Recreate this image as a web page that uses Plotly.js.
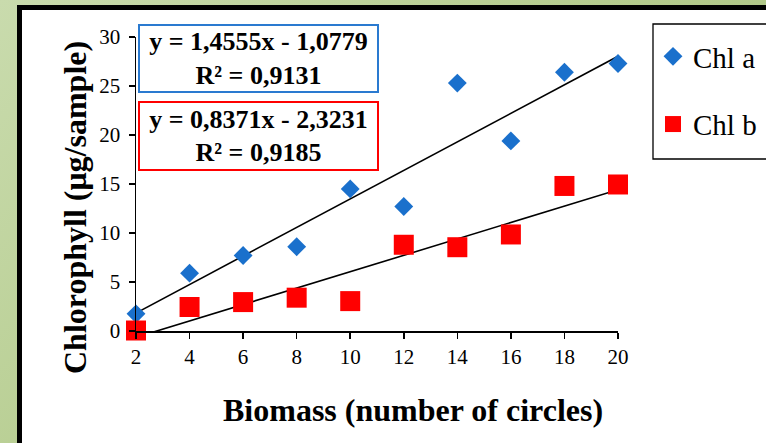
<!DOCTYPE html>
<html>
<head>
<meta charset="utf-8">
<script src="https://cdn.plot.ly/plotly-3.0.1.min.js"></script>
<style>
  html, body { margin: 0; padding: 0; width: 766px; height: 443px; overflow: hidden; }
  body { background: linear-gradient(135deg, #c9dbad 0%, #b5cc8e 50%, #a6bf7b 100%); position: relative; }
  #frame { position: absolute; left: 17px; top: 5px; width: 760px; height: 450px; background: #ffffff;
           border-left: 5px solid #000; border-top: 5px solid #000; box-sizing: border-box; }
  #chart { position: absolute; left: 0; top: 0; width: 766px; height: 443px; }
</style>
</head>
<body>
<div id="frame"></div>
<div id="chart"></div>
<script>
// ---- data ----
const biomass = [2, 4, 6, 8, 10, 12, 14, 16, 18, 20];
const chlA = [1.75, 5.9, 7.7, 8.6, 14.5, 12.7, 25.3, 19.4, 26.4, 27.3];
const chlB = [0.05, 2.45, 2.95, 3.4, 3.05, 8.8, 8.55, 9.85, 14.8, 14.95];
const seriesNames = ["Chl a", "Chl b"];
// trend line coefficients as printed on the chart
const slopes = [1.4555, 0.8371];
const intercepts = [-1.0779, -2.3231];
const r2 = ["0,9131", "0,9185"];
const eqLabels = ["y = 1,4555x - 1,0779", "y = 0,8371x - 2,3231"];
const xTitle = "Biomass (number of circles)";
const yTitle = "Chlorophyll (μg/sample)";

const blue = "#1a70cc";
const red = "#ff0000";
const serif = "Liberation Serif, Times New Roman, serif";

function trend(i) {
  const xs = [biomass[0], biomass[biomass.length - 1]];
  return { x: xs, y: xs.map(v => slopes[i] * v + intercepts[i]) };
}

const tA = trend(0), tB = trend(1);

const traces = [
  { x: tA.x, y: tA.y, mode: "lines", line: { color: "#000", width: 1.6 }, showlegend: false, hoverinfo: "skip" },
  { x: tB.x, y: tB.y, mode: "lines", line: { color: "#000", width: 1.6 }, showlegend: false, hoverinfo: "skip" },
  { x: biomass, y: chlA, name: seriesNames[0], mode: "markers", cliponaxis: false, legendgroup: "a",
    marker: { symbol: "diamond", size: 14.5, color: blue } },
  { x: biomass, y: chlB, name: seriesNames[1], mode: "markers", cliponaxis: false, legendgroup: "b",
    marker: { symbol: "square", size: 20, color: red } }
];

const L = 136, R = 618, T = 37, B = 331;
const pw = R - L, ph = B - T;
const px = v => (v - L) / pw;
const py = v => (B - v) / ph;

const layout = {
  width: 766, height: 443,
  margin: { l: L, r: 766 - R, t: T, b: 443 - B, autoexpand: false },
  paper_bgcolor: "rgba(0,0,0,0)",
  plot_bgcolor: "rgba(0,0,0,0)",
  font: { family: serif, color: "#000" },
  xaxis: {
    range: [2, 20], tickmode: "linear", tick0: 2, dtick: 2,
    showgrid: false, zeroline: false, showline: true, linecolor: "#000", linewidth: 1.5,
    ticks: "outside", ticklen: 6, tickwidth: 1.5, tickcolor: "#000",
    tickfont: { family: serif, size: 21, color: "#000" }
  },
  yaxis: {
    range: [0, 30], tickmode: "linear", tick0: 0, dtick: 5,
    showgrid: false, zeroline: false, showline: true, linecolor: "#000", linewidth: 1.5,
    ticks: "outside", ticklen: 6, tickwidth: 1.5, tickcolor: "#000", ticklabelstandoff: 4,
    tickfont: { family: serif, size: 21, color: "#000" }
  },
  showlegend: true,
  legend: {
    x: px(653), y: py(31), xanchor: "left", yanchor: "top",
    bgcolor: "rgba(0,0,0,0)", borderwidth: 0,
    font: { family: serif, size: 29, color: "#000" },
    traceorder: "grouped", tracegroupgap: 27
  },
  shapes: [
    { type: "rect", xref: "paper", yref: "paper", x0: px(653), x1: px(790), y0: py(159), y1: py(24),
      line: { color: "#000", width: 1.3 }, fillcolor: "#fff", layer: "above" }
  ],
  annotations: [
    { xref: "paper", yref: "paper", x: px(258.5), y: py(58.5), xanchor: "center", yanchor: "middle",
      text: "<b>" + eqLabels[0] + "<br>R² = " + r2[0] + "</b>", showarrow: false,
      font: { family: serif, size: 26, color: "#000" }, align: "center",
      bordercolor: "#2a7ad0", borderwidth: 2, borderpad: 0, bgcolor: "#fff", width: 237, height: 65 },
    { xref: "paper", yref: "paper", x: px(258.5), y: py(136), xanchor: "center", yanchor: "middle",
      text: "<b>" + eqLabels[1] + "<br>R² = " + r2[1] + "</b>", showarrow: false,
      font: { family: serif, size: 26, color: "#000" }, align: "center",
      bordercolor: "#ff0000", borderwidth: 2, borderpad: 0, bgcolor: "#fff", width: 237, height: 66 },
    { xref: "paper", yref: "paper", x: px(413), y: py(410), xanchor: "center", yanchor: "middle",
      text: "<b>" + xTitle + "</b>", showarrow: false, font: { family: serif, size: 32, color: "#000" } },
    { xref: "paper", yref: "paper", x: px(75), y: py(208), xanchor: "center", yanchor: "middle", textangle: -90,
      text: "<b>" + yTitle + "</b>", showarrow: false, font: { family: serif, size: 32, color: "#000" } }
  ]
};

Plotly.newPlot("chart", traces, layout, { displayModeBar: false, staticPlot: true });
</script>
</body>
</html>
